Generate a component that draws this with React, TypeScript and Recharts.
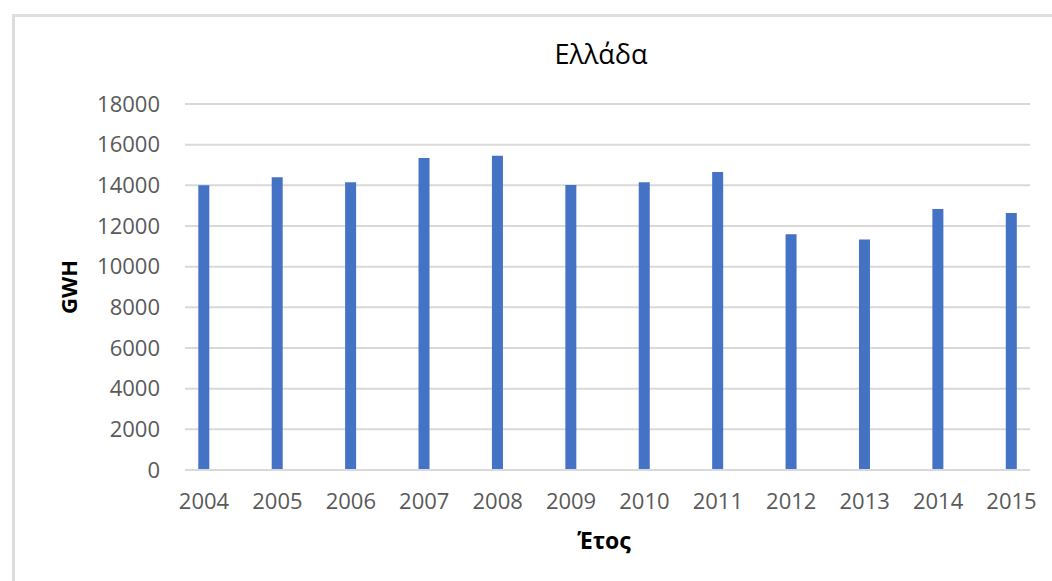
import { BarChart, Bar, XAxis, YAxis, CartesianGrid, Label } from 'recharts'

const years = [2004, 2005, 2006, 2007, 2008, 2009, 2010, 2011, 2012, 2013, 2014, 2015]
const gwh = [14000, 14400, 14150, 15350, 15460, 14020, 14150, 14660, 11590, 11330, 12840, 12640]
const yTicks = [0, 2000, 4000, 6000, 8000, 10000, 12000, 14000, 16000, 18000]

const data = years.map((year, i) => ({ year, gwh: gwh[i] }))

const FONT = '"Open Sans", sans-serif'
const GRID = '#d9d9d9'
const TICK_TEXT = '#595959'

export default function App() {
  return (
    <div
      style={{
        position: 'fixed',
        left: 0,
        top: 0,
        width: 1052,
        height: 581,
        overflow: 'hidden',
        background: '#fff',
        fontFamily: FONT
      }}
    >
      {/* chart area frame, runs off the right and bottom edges */}
      <div
        style={{
          position: 'absolute',
          left: 12,
          top: 14,
          width: 1100,
          height: 700,
          border: '3px solid #dedede'
        }}
      />
      <div
        style={{
          position: 'absolute',
          left: 0,
          top: 36,
          width: 1052,
          textAlign: 'center',
          paddingLeft: 150,
          boxSizing: 'border-box',
          fontSize: 27,
          color: '#000',
          lineHeight: '36px'
        }}
      >
        Ελλάδα
      </div>
      <div style={{ position: 'absolute', left: 0, top: 0 }}>
        <BarChart
          width={1052}
          height={581}
          data={data}
          margin={{ top: 104, right: 22, bottom: 0, left: 0 }}
        >
          <CartesianGrid vertical={false} stroke={GRID} strokeWidth={2} />
          <XAxis
            dataKey="year"
            type="number"
            domain={[2004, 2015]}
            ticks={years}
            interval={0}
            padding={{ left: 19, right: 18.5 }}
            tickLine={false}
            tickSize={0}
            tickMargin={23}
            axisLine={{ stroke: GRID, strokeWidth: 2 }}
            tick={{ fill: TICK_TEXT, fontSize: 22, fontFamily: FONT }}
            height={111}
          >
            <Label
              content={({ viewBox }: any) => (
                <text
                  x={604}
                  y={viewBox.y + 79}
                  textAnchor="middle"
                  fontFamily={FONT}
                  fontWeight="bold"
                  fontSize={23}
                  fill="#000"
                >
                  Έτος
                </text>
              )}
            />
          </XAxis>
          <YAxis
            type="number"
            domain={[0, 18000]}
            ticks={yTicks}
            interval={0}
            width={185}
            axisLine={false}
            tickLine={false}
            tickSize={0}
            tickMargin={25}
            tick={{ fill: TICK_TEXT, fontSize: 22, fontFamily: FONT }}
          >
            <Label
              content={({ viewBox }: any) => {
                const cx = 68
                const cy = viewBox.y + viewBox.height / 2
                return (
                  <text
                    x={cx}
                    y={cy}
                    transform={`rotate(-90, ${cx}, ${cy})`}
                    textAnchor="middle"
                    dominantBaseline="central"
                    fontFamily={FONT}
                    fontWeight="bold"
                    fontSize={22}
                    fill="#000"
                  >
                    GWH
                  </text>
                )
              }}
            />
          </YAxis>
          <Bar dataKey="gwh" fill="#4472C4" barSize={11} isAnimationActive={false} />
        </BarChart>
      </div>
    </div>
  )
}
